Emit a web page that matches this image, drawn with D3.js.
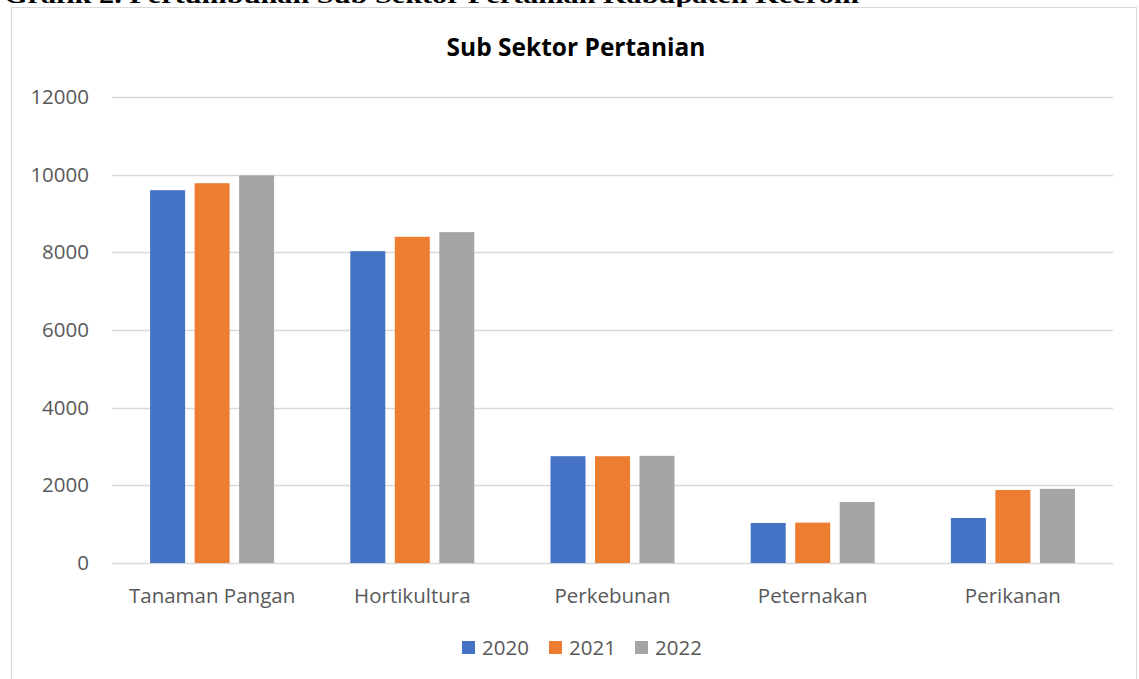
<!DOCTYPE html>
<html><head><meta charset="utf-8">
<script src="https://cdn.jsdelivr.net/npm/d3@7"></script>
<style>body{margin:0;background:#fff}svg{display:block}</style>
</head><body>
<script>
const categories = ["Tanaman Pangan","Hortikultura","Perkebunan","Peternakan","Perikanan"];
const seriesNames = ["2020","2021","2022"];
const values2020 = [9600, 8030, 2750, 1030, 1160];
const values2021 = [9780, 8400, 2750, 1040, 1880];
const values2022 = [9980, 8520, 2760, 1570, 1910];
const yTicks = [0,2000,4000,6000,8000,10000,12000];
const colors = ["#4472C4","#ED7D31","#A5A5A5"];
const title = "Sub Sektor Pertanian";
const caption = "Grafik 2. Pertumbuhan Sub Sektor Pertanian Kabupaten Keerom";

const W=1139,H=679;
const svg=d3.select("body").append("svg").attr("width",W).attr("height",H);
const font="'Open Sans', 'Noto Sans', sans-serif";

svg.append("text").attr("x",4).attr("y",2.5).attr("font-family","'Liberation Serif', serif")
  .attr("font-size",24).attr("font-weight","bold").attr("fill","#000")
  .attr("textLength",855).attr("lengthAdjust","spacingAndGlyphs").text(caption);
svg.append("rect").attr("x",11.5).attr("y",7.5).attr("width",1125).attr("height",700)
  .attr("fill","#fff").attr("stroke","#d9d9d9").attr("stroke-width",1);

const x0=d3.scaleBand().domain(categories).range([112,1113]);
const y=d3.scaleLinear().domain([0,12000]).range([563,97]);
const barW=35, gap=9.5;
const groupW=3*barW+2*gap;

const g=svg.append("g");
g.selectAll("line.grid").data(yTicks).join("line").attr("class","grid")
  .attr("x1",112).attr("x2",1113).attr("y1",d=>Math.round(y(d))+0.5).attr("y2",d=>Math.round(y(d))+0.5)
  .attr("stroke","#d9d9d9").attr("stroke-width",1.3);

const yAxis=d3.axisLeft(y).tickValues(yTicks).tickSize(0).tickPadding(0).tickFormat(d3.format("d"));
const ya=svg.append("g").attr("transform","translate(89,0)").call(yAxis);
ya.select(".domain").remove();
ya.selectAll("text").attr("font-family",font).attr("font-size",20.5).attr("fill","#595959");

const series=[values2020,values2021,values2022];
series.forEach((vals,si)=>{
  g.selectAll("rect.s"+si).data(categories).join("rect").attr("class","s"+si)
    .attr("x",(c)=>x0(c)+(x0.bandwidth()-groupW)/2+si*(barW+gap))
    .attr("y",(c,i)=>y(vals[i])).attr("width",barW).attr("height",(c,i)=>y(0)-y(vals[i]))
    .attr("fill",colors[si]);
});

const xAxis=d3.axisBottom(x0).tickSize(0).tickPadding(0);
const xa=svg.append("g").attr("transform","translate(0,603)").call(xAxis);
xa.select(".domain").remove();
xa.selectAll("text").attr("font-family",font).attr("font-size",20.5).attr("fill","#595959").attr("dy",0);

svg.append("text").attr("x",576).attr("y",56).attr("text-anchor","middle").attr("font-family",font)
  .attr("font-size",24.5).attr("font-weight","bold").attr("fill","#000").text(title);

const legX=[462,549,635];
const lg=svg.append("g");
seriesNames.forEach((s,i)=>{
  lg.append("rect").attr("x",legX[i]).attr("y",641).attr("width",13).attr("height",13).attr("fill",colors[i]);
  lg.append("text").attr("x",legX[i]+20).attr("y",655).attr("font-family",font).attr("font-size",20.5)
    .attr("fill","#595959").text(s);
});
</script>
</body></html>
